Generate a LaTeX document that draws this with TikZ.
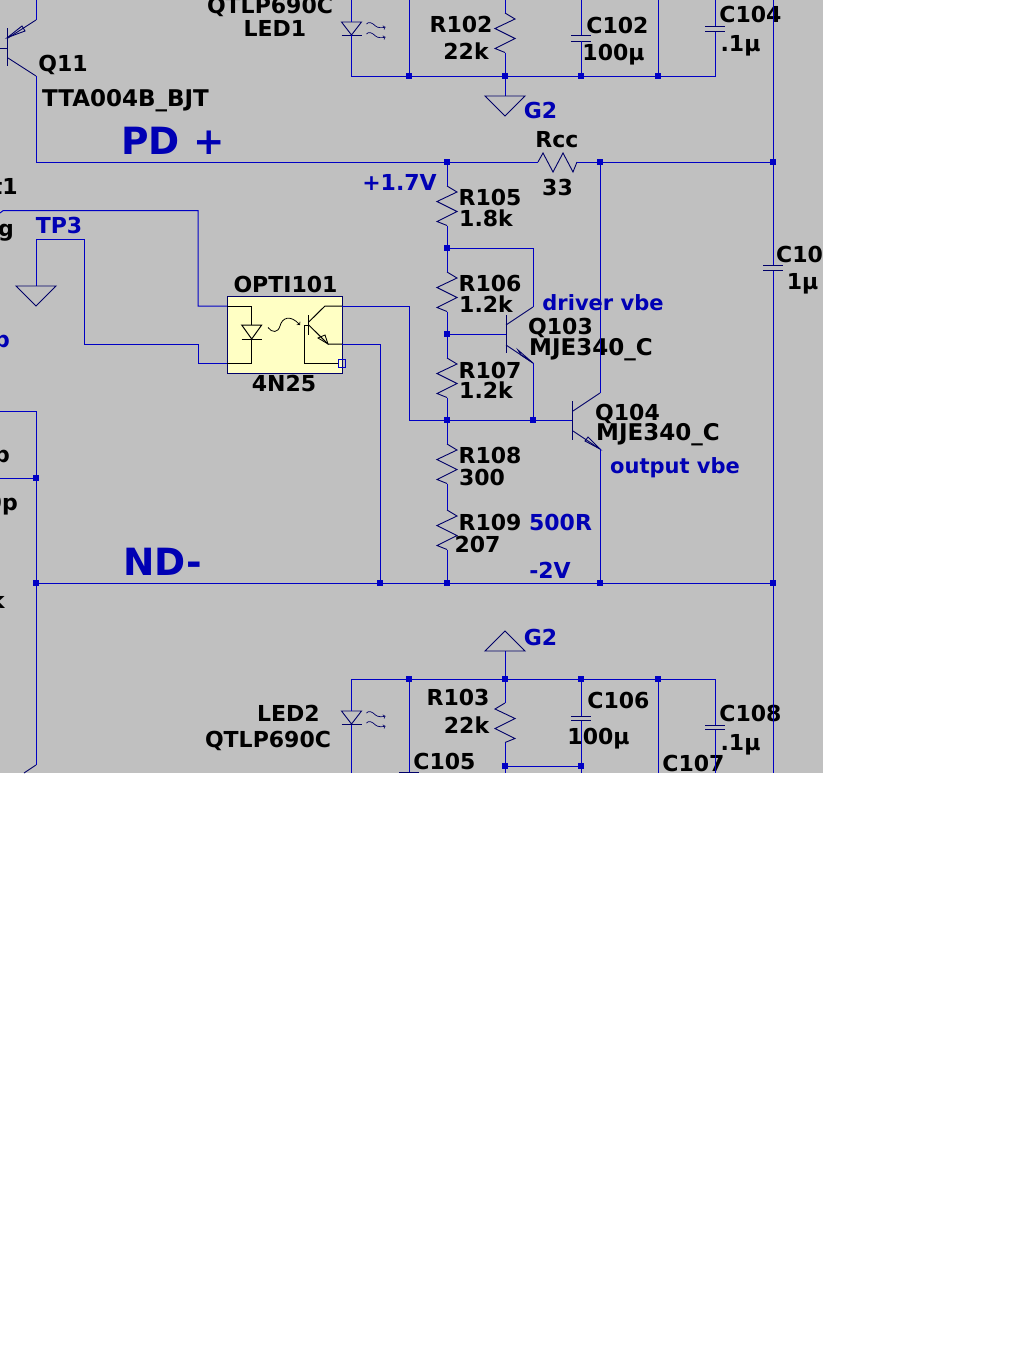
\documentclass[tikz,border=0pt]{standalone}
\usepackage{fontspec}
\setmainfont{DejaVu Sans}
\definecolor{sheet}{HTML}{C0C0C0}
\definecolor{wireblue}{HTML}{0000C4}
\definecolor{textblue}{HTML}{0000B4}
\definecolor{optoyellow}{HTML}{FFFFC4}
\definecolor{symnavy}{HTML}{000068}
\tikzset{
  wire/.style={draw=wireblue, line width=1pt, line join=miter},
  sym/.style={draw=symnavy, line width=0.9pt},
  optosym/.style={draw=black, line width=1pt},
  dot/.style={fill=wireblue, inner sep=0pt, minimum size=5.5pt, shape=rectangle},
  lab/.style={anchor=base, inner sep=0pt, text=black, font=\fontsize{22}{24}\selectfont\bfseries},
  longlab/.style={lab, font=\fontsize{23}{25}\selectfont\bfseries},
  blab/.style={lab, text=textblue},
  wordlab/.style={lab, text=textblue, font=\fontsize{21}{24}\selectfont\bfseries},
  biglab/.style={lab, text=textblue, font=\fontsize{37.5}{40}\selectfont\bfseries},
  edgelab/.style={lab, anchor=base east}
}
% resistor: top, lead length, bottom, side of the first bend
\newcommand{\resv}[4]{\draw[sym] (#1) ++(0,#2) -- ++(#4*10,6) -- ++(-#4*20,9.5) -- ++(#4*20,10) -- ++(-#4*20,10) -- ++(#4*10,4);
  \draw[wire] (#1) -- ++(0,#2); \draw[wire] (#1) ++(0,#2+39.5) -- (#3);}
% capacitor plates: coordinate of the upper plate, gap
\newcommand{\capplates}[2]{\draw[sym] (#1) ++(-10,0) -- ++(20,0); \draw[sym] (#1) ++(-10,#2) -- ++(20,0);}
% led: top of the triangle on the wire
\newcommand{\ledsym}[1]{\draw[sym] (#1) ++(-10,0) -- ++(20,0) -- ++(-10,13) -- cycle;
  \draw[sym] (#1) ++(-10,13) -- ++(20,0);
  \foreach \dy in {0,10} {
    \draw[sym, line width=0.7pt, ->, >=to] (#1) ++(15,\dy+2) .. controls +(2,-3) and +(-3,-3) .. ++(9,2) .. controls +(2,2) and +(-3,1) .. ++(10,1);
  }}
\begin{document}
\begin{tikzpicture}[x=1pt, y=-1pt]
\useasboundingbox (0,0) rectangle (1024,1365);
\fill[sheet] (0,0) rectangle (823,773);
\begin{scope}
\clip (0,0) rectangle (823,773);
% wire points
\foreach \name/\x/\y in {
  qcoll/36/20, qemit/36/76, pdl/36/162, pdr/773/162, ndl/36/583, ndr/773/583,
  na/447/162, nb/600/162, nc/447/248, nd/447/334, ne/447/420, nf/533/420, ng/447/506,
  nh/380/583, ni/447/583, nj/600/583, nk/36/478,
  ta/351/76, tb/409/76, tc/505/76, td/581/76, te/658/76, tf/715/76,
  ba/351/679, bb/409/679, bc/505/679, bd/581/679, be/658/679, bf/715/679,
  bg/505/766, bh/581/766,
  gnda/505/96, gndb/505/651, gndc/36/286,
  optoa/227/306, optob/227/363, optoc/342/306, optod/342/344, optoe/342/363,
  qca/600/393, qcb/600/449, qda/533/307, qdb/533/363
} \coordinate (\name) at (\x,\y);
% labels
\node[lab] (q11) at (63,71) {Q11};
\node[longlab] (q11val) at (125.5,106) {TTA004B\_BJT};
\node[lab] (led1val) at (270,13) {QTLP690C};
\node[lab] (led1) at (275,36) {LED1};
\node[lab] (r102) at (461,32) {R102};
\node[lab] (r102val) at (466,59) {22k};
\node[lab] (c102) at (617.5,33) {C102};
\node[lab] (c102val) at (613.5,60) {100µ};
\node[lab] (c104) at (750.5,23) {C104};
\node[lab] (c104val) at (740.5,51) {.1µ};
\node[blab] (g2a) at (540.5,118) {G2};
\node[lab] (rcc) at (557,147) {Rcc};
\node[lab] (rccval) at (557.5,195) {33};
\node[biglab] (pdlab) at (173,154) {PD +};
\node[blab] (vplus) at (399.5,190) {+1.7V};
\node[edgelab] (clipa) at (18,194) {t1};
\node[edgelab] (clipb) at (14,236) {g};
\node[blab] (tp3) at (59,233) {TP3};
\node[blab, anchor=base east] (clipc) at (10,347) {p};
\node[edgelab] (clipd) at (10,462) {b};
\node[edgelab] (clipe) at (18,510) {0p};
\node[edgelab] (clipf) at (5,608) {k};
\node[lab] (r105) at (490,205) {R105};
\node[lab] (r105val) at (486,226.5) {1.8k};
\node[lab] (opti) at (285.5,292.5) {OPTI101};
\node[lab] (optival) at (284,391) {4N25};
\node[lab] (r106) at (490,291.5) {R106};
\node[lab] (r106val) at (486,312) {1.2k};
\node[wordlab] (drv) at (603,310) {driver vbe};
\node[lab] (q103) at (560.5,334) {Q103};
\node[longlab] (q103val) at (591,355) {MJE340\_C};
\node[lab] (r107) at (490,378) {R107};
\node[lab] (r107val) at (486,398) {1.2k};
\node[lab] (q104) at (627.5,420) {Q104};
\node[longlab] (q104val) at (658,440.5) {MJE340\_C};
\node[wordlab] (outv) at (675,473) {output vbe};
\node[lab] (r108) at (490,463) {R108};
\node[lab] (r108val) at (482,485) {300};
\node[lab] (r109) at (490,530) {R109};
\node[lab] (r109val) at (477.5,552) {207};
\node[blab] (r500) at (560.5,530.5) {500R};
\node[blab] (vminus) at (550,578) {-2V};
\node[biglab] (ndlab) at (162.5,575) {ND-};
\node[lab] (c10) at (799.5,262) {C10};
\node[lab] (c10val) at (802.5,289) {1µ};
\node[blab] (g2b) at (540.5,645) {G2};
\node[lab] (r103) at (458,705) {R103};
\node[lab] (r103val) at (466.5,733) {22k};
\node[lab] (led2) at (288.5,721.5) {LED2};
\node[lab] (led2val) at (268,747) {QTLP690C};
\node[lab] (c105) at (444.5,769) {C105};
\node[lab] (c106) at (618.5,708) {C106};
\node[lab] (c106val) at (598.5,744) {100µ};
\node[lab] (c108) at (750.5,721.5) {C108};
\node[lab] (c108val) at (740.5,750.5) {.1µ};
\node[lab] (c107) at (693.5,771.5) {C107};
% optocoupler
\draw[fill=optoyellow, draw=symnavy, line width=1pt] (227,296) rectangle (342.5,373);
\draw[optosym] (optoa) -- (251.7,306) -- (251.7,325);
\draw[optosym] (241.7,325) -- (261.7,325) -- (251.7,339) -- cycle;
\draw[optosym] (241.7,339) -- (261.7,339);
\draw[optosym] (251.7,339) -- (251.7,363) -- (optob);
\draw[optosym, line width=0.8pt, ->, >=to] (268,327.5) .. controls (272,333) and (278,333) .. (280,326) .. controls (282,318) and (290,314) .. (300,325);
\draw[optosym] (308.7,315) -- (308.7,335);
\draw[optosym] (308.7,322) -- (325,306) -- (optoc);
\draw[optosym] (308.7,325) -- (328,344) -- (optod);
\draw[optosym, line width=0.8pt] (318,338) -- (325,335) -- (328,344) -- cycle;
\draw[optosym] (308.7,325) -- (304.7,325) -- (304.7,363) -- (338,363);
\draw[wire] (338.5,359) rectangle (345.5,367);
% rails
\draw[wire] (pdl) -- (538,162);
\draw[sym] (538,162) -- (543,153) -- (553,172) -- (563,153) -- (573,172) -- (577,162);
\draw[wire] (577,162) -- (pdr);
\draw[wire] (ndl) -- (ndr);
\draw[wire] (773,0) -- (pdr) -- (773,265);
\draw[wire] (773,270) -- (ndr) -- (773,773);
\capplates{773,265}{5}
% q11
\draw[sym] (7,28) -- (7,66);
\draw[sym] (0,48) -- (7,48);
\draw[sym] (8,38) -- (qcoll);
\draw[sym] (8,58) -- (qemit);
\draw[sym] (7.5,37.5) -- (22,26) -- (25,31) -- cycle;
\draw[wire] (36,0) -- (qcoll);
\draw[wire] (qemit) -- (pdl);
% upper supply
\ledsym{351.5,22}
\draw[wire] (351.5,0) -- (351.5,22);
\draw[wire] (351.5,35) -- (351.5,76) -- (tf) -- (715,31);
\draw[wire] (409,0) -- (tb);
\resv{505,-26}{39}{tc}{1}
\draw[wire] (tc) -- (gnda);
\draw[sym] (485,96) -- (525,96) -- (505,116) -- cycle;
\draw[wire] (581,0) -- (581,35);
\capplates{581,35}{6}
\draw[wire] (581,41) -- (td);
\draw[wire] (658,0) -- (te);
\draw[wire] (715,0) -- (715,26);
\capplates{715,26}{5}
% divider and drivers
\resv{na}{24}{nc}{1}
\resv{nc}{24}{nd}{1}
\resv{nd}{24}{ne}{1}
\resv{ne}{24}{ng}{1}
\resv{ng}{4}{ni}{1}
\draw[wire] (nc) -- (533,248) -- (qda);
\draw[sym] (qda) -- (506,325);
\draw[sym] (506,315) -- (506,353);
\draw[wire] (nd) -- (506,334);
\draw[sym] (506,345) -- (qdb);
\draw[sym] (518,350) -- (521,355) -- (qdb) -- cycle;
\draw[wire] (qdb) -- (nf);
\draw[wire] (nb) -- (qca);
\draw[sym] (qca) -- (573,411);
\draw[sym] (572.7,401) -- (572.7,440);
\draw[wire] (409,420) -- (572,420);
\draw[sym] (573,431) -- (qcb);
\draw[sym] (585,441) -- (588,437) -- (qcb) -- cycle;
\draw[wire] (qcb) -- (nj);
% optocoupler wires
\draw[wire] (0,213) -- (3,210.7) -- (198,210.7) -- (198,306) -- (optoa);
\draw[wire] (optob) -- (198,363) -- (198,344) -- (84,344) -- (84,239) -- (36,239) -- (gndc);
\draw[sym] (16,286) -- (56,286) -- (36,306) -- cycle;
\draw[wire] (optoc) -- (409,306) -- (409,420);
\draw[wire] (optod) -- (380,344) -- (nh);
% left block
\draw[wire] (0,411) -- (36,411) -- (36,765);
\draw[wire] (0,478) -- (nk);
\draw[sym] (36,765) -- (24,773);
% lower supply
\draw[wire] (gndb) -- (bc);
\draw[sym] (485,651) -- (525,651) -- (505,631) -- cycle;
\draw[wire] (351.5,773) -- (351.5,724);
\ledsym{351.5,711}
\draw[wire] (351.5,711) -- (351.5,679) -- (bf) -- (715,725);
\draw[wire] (409,679) -- (409,772);
\draw[sym] (399,772) -- (419,772);
\resv{bc}{24}{505,773}{-1}
\draw[wire] (bg) -- (bh);
\draw[wire] (bd) -- (581,716);
\capplates{581,716}{4.5}
\draw[wire] (581,720.5) -- (581,773);
\draw[wire] (be) -- (658,773);
\capplates{715,725}{4.5}
\draw[wire] (715,729.5) -- (715,773);
% junctions
\foreach \j in {na,nb,nc,nd,ne,nf,nh,ni,nj,nk,ndl,pdr,ndr,tb,tc,td,te,bb,bc,bd,be,bg,bh}
  \node[dot] (dot\j) at (\j) {};
\end{scope}
\end{tikzpicture}
\end{document}
